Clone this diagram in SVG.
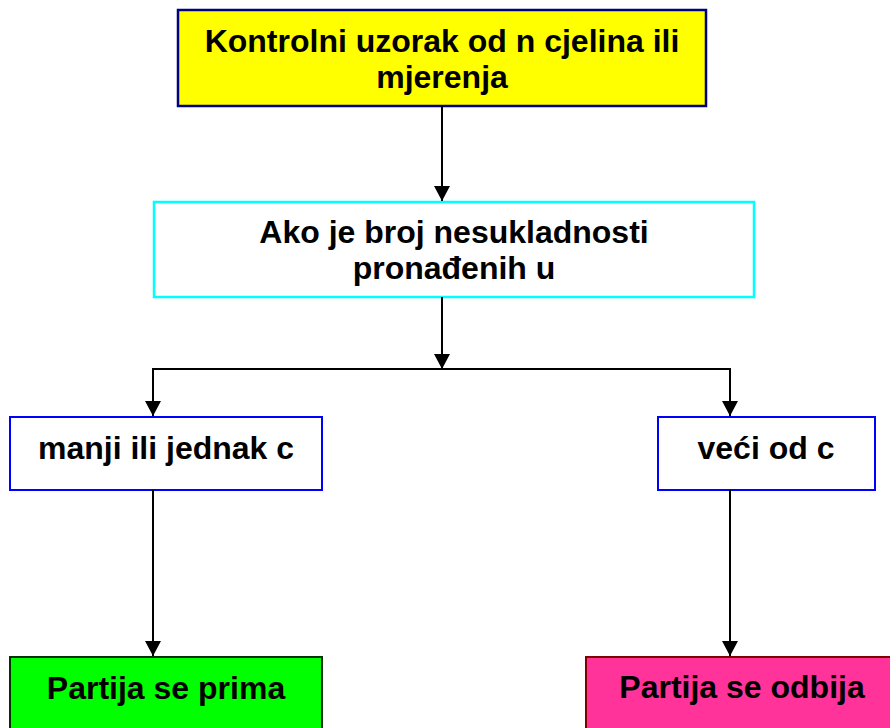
<svg xmlns="http://www.w3.org/2000/svg" width="890" height="728" viewBox="0 0 890 728">
  <style>
    .t { font-family: "Liberation Sans", Arial, sans-serif; font-weight: bold; font-size: 32px; fill: #000; text-anchor: middle; }
    .c { fill: none; stroke: #000; stroke-width: 2; }
  </style>
  <defs>
    <marker id="ah" markerUnits="userSpaceOnUse" markerWidth="15" markerHeight="16" refX="15" refY="8" orient="auto">
      <path d="M0,0 L15,8 L0,16 z" fill="#000"/>
    </marker>
  </defs>
  <rect width="890" height="728" fill="#fff"/>

  <g id="n1">
    <rect x="178" y="10" width="528" height="96" fill="#ffff00" stroke="#000080" stroke-width="2.5"/>
    <text class="t" x="442" y="52">Kontrolni uzorak od n cjelina ili</text>
    <text class="t" x="442" y="88">mjerenja</text>
  </g>
  <g id="n2">
    <rect x="154" y="202" width="600" height="95" fill="#fff" stroke="#00ffff" stroke-width="2.5"/>
    <text class="t" x="454" y="243">Ako je broj nesukladnosti</text>
    <text class="t" x="454" y="279">pronađenih u</text>
  </g>
  <g id="n3">
    <rect x="10" y="417" width="312" height="73" fill="#fff" stroke="#0000ff" stroke-width="2"/>
    <text class="t" x="166" y="459">manji ili jednak c</text>
  </g>
  <g id="n4">
    <rect x="658" y="417" width="217" height="73" fill="#fff" stroke="#0000ff" stroke-width="2"/>
    <text class="t" x="766" y="459">veći od c</text>
  </g>
  <g id="n5">
    <rect x="10" y="657" width="312" height="80" fill="#00ff00" stroke="#003300" stroke-width="2"/>
    <text class="t" x="166" y="699">Partija se prima</text>
  </g>
  <g id="n6">
    <rect x="586" y="657" width="313" height="80" fill="#ff3399" stroke="#800000" stroke-width="2"/>
    <text class="t" x="742" y="698">Partija se odbija</text>
  </g>

  <g id="connectors">
    <path class="c" d="M442,106 L442,201" marker-end="url(#ah)"/>
    <path class="c" d="M442,297 L442,369" marker-end="url(#ah)"/>
    <path class="c" d="M153,369 L730,369"/>
    <path class="c" d="M153,368 L153,416" marker-end="url(#ah)"/>
    <path class="c" d="M730,368 L730,416" marker-end="url(#ah)"/>
    <path class="c" d="M153,490 L153,656" marker-end="url(#ah)"/>
    <path class="c" d="M730,490 L730,656" marker-end="url(#ah)"/>
  </g>
</svg>
